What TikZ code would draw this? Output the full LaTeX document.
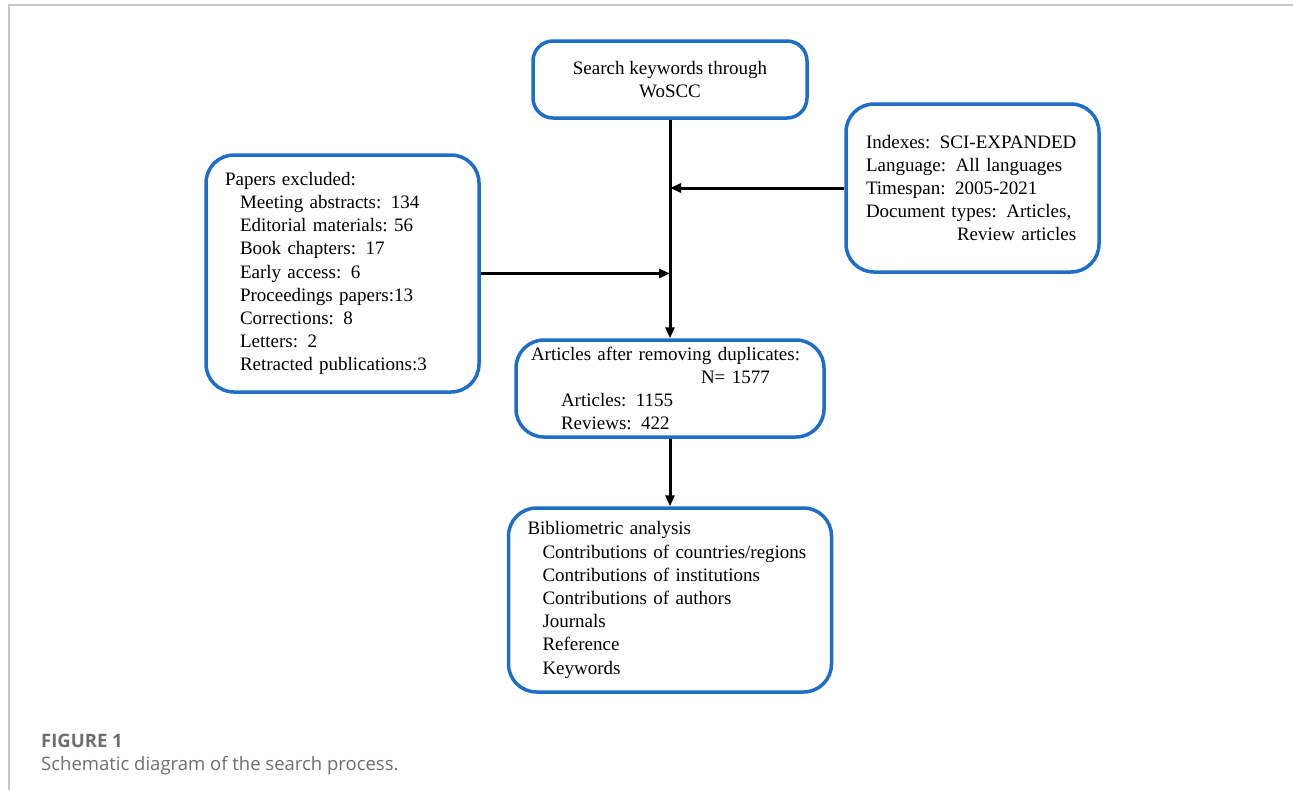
\documentclass[tikz,border=0pt]{standalone}
\usepackage{fontspec}
\setmainfont{Liberation Serif}
\newfontfamily\capfont{Open Sans}
\usetikzlibrary{arrows.meta,positioning}
\definecolor{boxblue}{RGB}{30,110,200}
\definecolor{capgray}{RGB}{110,110,110}
\definecolor{framegray}{RGB}{200,200,200}

\begin{document}
\begin{tikzpicture}[x=1pt,y=-1pt]
\tikzstyle{every node}+=[font=\fontsize{19}{23.2}\selectfont]
\tikzstyle{box}=[draw=boxblue,line width=3.5pt,rounded corners=28pt,align=left,inner ysep=0pt]
\tikzstyle{flow}=[black,line width=3pt,-{Triangle[length=11pt,width=9pt]}]
\useasboundingbox (0,0) rectangle (1293,790);
\draw [framegray,line width=2pt] (1293,5) -- (9,5) -- (9,790);
\node [box,rounded corners=20pt,align=center,minimum width=274pt,minimum height=77pt] (search) at (670,79.5) {Search keywords through\\WoSCC};
\node [box,text width=213pt,inner xsep=20pt,minimum height=168pt] (crit) at (972.5,188) {Indexes: SCI-EXPANDED\\Language: All\ languages\\Timespan: 2005-2021\\Document types: Articles,\\\hspace*{91pt}Review articles};
\node [box,text width=235pt,inner xsep=19pt,minimum height=237pt] (excl) at (342.5,273.5) {Papers excluded:\\\hspace*{15pt}Meeting\ abstracts: 134\\\hspace*{15pt}Editorial\ materials:\ 56\\\hspace*{15pt}Book chapters: 17\\\hspace*{15pt}Early\ access: 6\\\hspace*{15pt}Proceedings papers:13\\\hspace*{15pt}Corrections: 8\\\hspace*{15pt}Letters: 2\\\hspace*{15pt}Retracted publications:3};
\node [box,text width=278pt,inner xsep=15pt,minimum height=97pt] (dup) at (670,388.5) {Articles after removing duplicates:\\\hspace*{170pt}N= 1577\\\hspace*{30pt}Articles: 1155\\\hspace*{30pt}Reviews: 422};
\node [box,text width=285pt,inner xsep=19pt,minimum height=184pt] (bib) at (670,600) {Bibliometric\ analysis\\\hspace*{15pt}Contributions of countries/regions\\\hspace*{15pt}Contributions of institutions\\\hspace*{15pt}Contributions of authors\\\hspace*{15pt}Journals\\\hspace*{15pt}Reference\\\hspace*{15pt}Keywords};
\draw [flow] (search.south) -- (dup.north);
\draw [flow] (crit.west) -- (crit.west -| search.south);
\draw [flow] (excl.east) -- (excl.east -| search.south);
\draw [flow] (dup.south) -- (bib.north);
\node [anchor=base west,inner sep=0pt,font=\capfont\bfseries\fontsize{18.5}{22}\selectfont,text=capgray] (fig) at (41,747) {FIGURE 1};
\node [anchor=base west,inner sep=0pt,font=\capfont\fontsize{18.5}{22}\selectfont,text=capgray] (cap) at (41,770) {Schematic diagram of the search process.};
\end{tikzpicture}
\end{document}
